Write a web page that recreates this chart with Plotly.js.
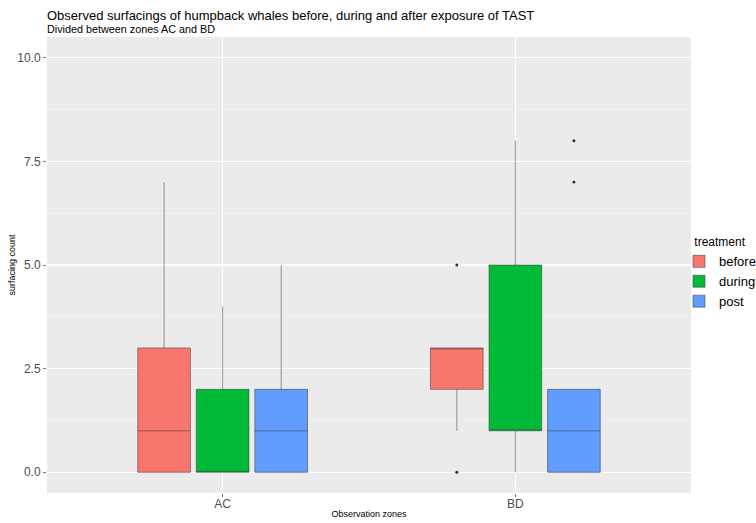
<!DOCTYPE html>
<html>
<head>
<meta charset="utf-8">
<script src="https://cdn.plot.ly/plotly-3.0.1.min.js"></script>
<style>
  html, body { margin: 0; padding: 0; background: #fff; }
  #chart { width: 756px; height: 523px; }
</style>
</head>
<body>
<div id="chart"></div>
<script>
// observation zones and treatments
var zones = ['AC', 'BD'];
var treatments = ['before', 'during', 'post'];
var colours = ['#F8766D', '#00BA38', '#619CFF'];

// surfacing counts per zone
var beforeAC = [0, 0, 0, 0, 0, 1, 1, 1, 3, 3, 3, 5, 7];
var beforeBD = [0, 1, 2, 2, 2, 2, 3, 3, 3, 3, 3, 3, 5];
var duringAC = [0, 0, 0, 0, 0, 0, 0, 1, 2, 2, 2, 3, 4];
var duringBD = [0, 1, 1, 1, 1, 1, 1, 2, 5, 5, 5, 6, 8];
var postAC = [0, 0, 0, 0, 0, 1, 1, 1, 2, 2, 2, 3, 5];
var postBD = [0, 0, 0, 0, 0, 1, 1, 1, 2, 2, 2, 7, 8];

var yTicks = [0, 2.5, 5, 7.5, 10];

var counts = [
  [beforeAC, beforeBD],
  [duringAC, duringBD],
  [postAC, postBD]
];

var data = [];
treatments.forEach(function(t, i) {
  var x = [], y = [];
  counts[i].forEach(function(vals, z) {
    vals.forEach(function(v) {
      x.push(zones[z]);
      y.push(v);
    });
  });
  data.push({
    type: 'box',
    name: t,
    x: x,
    y: y,
    quartilemethod: 'linear',
    boxpoints: 'outliers',
    jitter: 0,
    pointpos: 0,
    whiskerwidth: 0,
    fillcolor: colours[i],
    line: { color: 'rgba(51,51,51,0.5)', width: 1 },
    marker: { color: '#333333', size: 3 },
    hoverinfo: 'skip'
  });
});

var layout = {
  width: 756,
  height: 523,
  margin: { l: 47, r: 65, t: 37, b: 30, autoexpand: false },
  paper_bgcolor: '#ffffff',
  plot_bgcolor: '#EBEBEB',
  font: { family: 'Liberation Sans, Arial, sans-serif', color: '#4D4D4D' },
  title: {
    text: 'Observed surfacings of humpback whales before, during and after exposure of TAST',
    font: { size: 13, color: '#000000' },
    xref: 'paper', x: 0, xanchor: 'left',
    yref: 'container', y: 1 - 15 / 523, yanchor: 'middle'
  },
  annotations: [{
    text: 'Divided between zones AC and BD',
    font: { size: 10.8, color: '#000000' },
    xref: 'paper', x: 0, xanchor: 'left', xshift: -2,
    yref: 'paper', y: 1 + 8 / 456, yanchor: 'middle',
    showarrow: false
  }],
  boxmode: 'group',
  boxgap: 0.4,
  boxgroupgap: 0.1,
  xaxis: {
    type: 'category',
    categoryorder: 'array',
    categoryarray: zones,
    range: [-0.6, 1.6],
    showgrid: true,
    gridcolor: '#ffffff',
    gridwidth: 1.1,
    zeroline: false,
    showline: false,
    ticks: 'outside',
    ticklen: 3,
    tickcolor: '#7a7a7a',
    ticklabelstandoff: -3,
    tickfont: { size: 12, color: '#4D4D4D' },
    automargin: false,
    title: { text: 'Observation zones', font: { size: 9, color: '#000000' }, standoff: 0 }
  },
  yaxis: {
    range: [-0.5, 10.5],
    tickvals: yTicks,
    tickformat: '.1f',
    showgrid: true,
    gridcolor: '#ffffff',
    gridwidth: 1.1,
    minor: { dtick: 1.25, tick0: 1.25, showgrid: true, gridcolor: '#F5F5F5', gridwidth: 0.6 },
    zeroline: false,
    showline: false,
    ticks: 'outside',
    ticklen: 3,
    tickcolor: '#7a7a7a',
    tickfont: { size: 12, color: '#4D4D4D' },
    automargin: false,
    title: { text: 'surfacing count', font: { size: 9, color: '#000000' }, standoff: 0 }
  },
  showlegend: true,
  legend: {
    x: (679 - 47) / 644, xanchor: 'left',
    y: 0.575, yanchor: 'top',
    bgcolor: 'rgba(0,0,0,0)',
    font: { size: 13, color: '#000000' },
    title: { text: 'treatment', side: 'top center', font: { size: 12, color: '#000000' } },
    itemwidth: 30,
    itemclick: false
  }
};

Plotly.newPlot('chart', data, layout, { displayModeBar: false, staticPlot: true });
</script>
</body>
</html>
